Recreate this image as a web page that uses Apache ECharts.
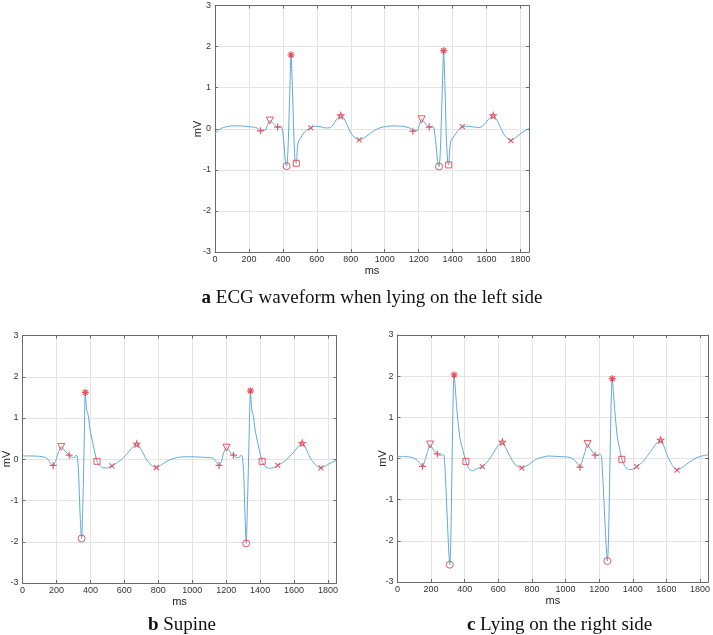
<!DOCTYPE html>
<html><head><meta charset="utf-8">
<script src="https://cdn.jsdelivr.net/npm/echarts@6/dist/echarts.min.js"></script>
<style>html,body{margin:0;padding:0;background:#fff}#c{width:713px;height:635px}</style>
</head><body><div id="c"></div>
<script>
// ---------- DATA ----------
const xTicks = [0,200,400,600,800,1000,1200,1400,1600,1800];
const yTicks = [-3,-2,-1,0,1,2,3];
const captions = ['ECG waveform when lying on the left side','Supine','Lying on the right side'];
const letters = ['a','b','c'];
const xName = 'ms';
const yName = 'mV';

// Panel a: lying on the left side  [ms, mV]
const waveA = [[0,-0.12],[20,-0.03],[50,0.03],[100,0.07],[150,0.07],[200,0.05],[240,0.03],[255,0.0],[268,-0.05],[285,-0.02],[296,-0.04],[310,0.1],[323,0.2],[345,0.12],[369,0.04],[385,0.06],[395,0.02],[405,-0.3],[415,-0.8],[422,-0.91],[430,-0.5],[440,0.8],[448,1.8],[456,1.0],[465,-0.2],[472,-0.8],[479,-0.84],[485,-0.5],[492,-0.3],[505,-0.22],[520,-0.12],[540,-0.03],[564,0.02],[590,0.06],[620,0.05],[650,0.02],[680,0.03],[700,0.12],[720,0.25],[741,0.32],[760,0.25],[780,0.08],[800,-0.1],[825,-0.22],[850,-0.27],[880,-0.22],[910,-0.13],[940,-0.04],[970,0.02],[1000,0.05],[1050,0.07],[1100,0.06],[1140,0.03],[1155,0.0],[1166,-0.06],[1180,-0.03],[1192,-0.05],[1205,0.1],[1217,0.23],[1240,0.12],[1262,0.04],[1280,0.06],[1290,0.02],[1300,-0.3],[1312,-0.8],[1320,-0.92],[1328,-0.5],[1338,0.8],[1347,1.9],[1355,1.0],[1363,-0.2],[1371,-0.8],[1377,-0.88],[1383,-0.5],[1390,-0.3],[1405,-0.2],[1425,-0.08],[1457,0.05],[1490,0.06],[1530,0.04],[1560,0.03],[1590,0.12],[1615,0.25],[1639,0.32],[1660,0.22],[1680,0.05],[1700,-0.12],[1720,-0.22],[1743,-0.29],[1770,-0.22],[1800,-0.12],[1830,-0.04],[1850,0.0]];
const pOnA  = [[268,-0.05],[1166,-0.06]];
const pPkA  = [[323,0.2],[1217,0.23]];
const pOffA = [[369,0.04],[1262,0.04]];
const qA    = [[422,-0.91],[1320,-0.92]];
const rA    = [[448,1.8],[1347,1.9]];
const sA    = [[479,-0.84],[1377,-0.88]];
const tOnA  = [[564,0.02],[1457,0.05]];
const tPkA  = [[741,0.32],[1639,0.32]];
const tOffA = [[850,-0.27],[1743,-0.29]];

// Panel b: supine
const waveB = [[0,0.08],[50,0.08],[100,0.07],[130,0.05],[150,0.0],[165,-0.1],[181,-0.15],[195,-0.05],[210,0.15],[228,0.30],[250,0.2],[275,0.10],[295,0.04],[305,0.04],[315,0.1],[322,0.08],[330,-0.3],[340,-1.4],[348,-1.92],[356,-1.0],[364,0.5],[370,1.62],[378,1.2],[387,1.07],[397,0.74],[417,0.34],[439,-0.05],[455,-0.15],[475,-0.21],[500,-0.21],[527,-0.16],[560,-0.08],[590,0.02],[620,0.15],[650,0.3],[673,0.37],[690,0.3],[710,0.15],[730,0.0],[760,-0.15],[789,-0.2],[820,-0.13],[860,-0.03],[900,0.03],[950,0.06],[1000,0.06],[1050,0.05],[1100,0.04],[1125,0.02],[1140,-0.05],[1158,-0.15],[1172,-0.05],[1185,0.15],[1202,0.28],[1222,0.18],[1243,0.10],[1262,0.04],[1275,0.04],[1288,0.1],[1295,0.06],[1303,-0.3],[1312,-1.5],[1318,-2.04],[1326,-1.0],[1335,0.5],[1343,1.66],[1351,1.2],[1360,1.05],[1370,0.72],[1390,0.32],[1412,-0.05],[1430,-0.18],[1455,-0.22],[1480,-0.2],[1504,-0.15],[1540,-0.06],[1570,0.05],[1600,0.18],[1625,0.32],[1648,0.39],[1665,0.3],[1685,0.12],[1705,-0.03],[1730,-0.15],[1758,-0.21],[1790,-0.15],[1820,-0.08],[1850,-0.03]];
const pOnB  = [[181,-0.15],[1158,-0.15]];
const pPkB  = [[228,0.30],[1202,0.28]];
const pOffB = [[275,0.10],[1243,0.10]];
const qB    = [[348,-1.92],[1318,-2.04]];
const rB    = [[370,1.62],[1343,1.66]];
const sB    = [[439,-0.05],[1412,-0.05]];
const tOnB  = [[527,-0.16],[1504,-0.15]];
const tPkB  = [[673,0.37],[1648,0.39]];
const tOffB = [[789,-0.2],[1758,-0.21]];

// Panel c: lying on the right side
const waveC = [[0,0.05],[40,0.05],[80,0.03],[110,-0.02],[130,-0.1],[149,-0.19],[163,-0.05],[178,0.15],[194,0.34],[215,0.2],[237,0.11],[255,0.07],[265,0.09],[278,0.07],[311,-2.58],[337,2.03],[356,1.06],[372,0.49],[386,0.25],[407,-0.07],[425,-0.25],[445,-0.3],[470,-0.25],[505,-0.2],[535,-0.08],[565,0.1],[600,0.32],[624,0.40],[645,0.25],[670,0.05],[700,-0.15],[740,-0.23],[780,-0.15],[820,-0.03],[860,0.03],[900,0.06],[950,0.05],[1000,0.04],[1030,0.02],[1055,-0.05],[1070,-0.12],[1086,-0.21],[1100,-0.05],[1115,0.15],[1131,0.35],[1150,0.22],[1176,0.08],[1190,0.07],[1203,0.1],[1214,0.06],[1249,-2.49],[1278,1.94],[1295,1.06],[1309,0.49],[1321,0.25],[1335,-0.02],[1355,-0.2],[1380,-0.27],[1400,-0.26],[1423,-0.2],[1460,-0.08],[1490,0.08],[1520,0.25],[1545,0.38],[1566,0.45],[1585,0.3],[1605,0.08],[1630,-0.13],[1663,-0.28],[1700,-0.2],[1740,-0.08],[1780,0.02],[1820,0.07],[1850,0.09]];
const pOnC  = [[149,-0.19],[1086,-0.21]];
const pPkC  = [[194,0.34],[1131,0.35]];
const pOffC = [[237,0.11],[1176,0.08]];
const qC    = [[311,-2.58],[1249,-2.49]];
const rC    = [[337,2.03],[1278,1.94]];
const sC    = [[407,-0.07],[1335,-0.02]];
const tOnC  = [[505,-0.2],[1423,-0.2]];
const tPkC  = [[624,0.40],[1566,0.45]];
const tOffC = [[740,-0.23],[1663,-0.28]];

// ---------- STYLE / LAYOUT ----------
const RED = '#e8303a';
const LINE = '#5fa9d8';
const AX = '#6b6b6b';
const grids = [
  {left:215, top:5.5, width:314, height:246.5},
  {left:22.5, top:335.5, width:314, height:247.5},
  {left:397.5, top:335, width:314.5, height:247}
];
const captionPos = [[367,284],[177,611],[554.5,611]];
const yNamePos = [[198,129],[7,459],[383,458.5]];

const SYM = {
  plus: 'path://M5,0L5,10M0,5L10,5',
  cross: 'path://M0,0L10,10M10,0L0,10',
  star: 'path://M5,0L5,10M0,5L10,5M1.5,1.5L8.5,8.5M8.5,1.5L1.5,8.5',
  penta: 'path://M5,0L6.2,3.6L10,3.6L7,5.9L8.1,9.5L5,7.3L1.9,9.5L3,5.9L0,3.6L3.8,3.6Z'
};
function mk(name, data, gi, symbol, size, opts) {
  opts = opts || {};
  return {
    type:'scatter', name, data, xAxisIndex:gi, yAxisIndex:gi,
    symbol, symbolSize:size, symbolRotate: opts.rot || 0, z:5,
    itemStyle:{color: opts.fill ? RED : 'rgba(0,0,0,0)', borderColor:RED, borderWidth: opts.bw || 1},
    silent:true
  };
}

const xAxes = [], yAxes = [], series = [], titles = [], graphics = [];
const waves = [waveA, waveB, waveC];
const marks = [
  [pOnA,pPkA,pOffA,qA,rA,sA,tOnA,tPkA,tOffA],
  [pOnB,pPkB,pOffB,qB,rB,sB,tOnB,tPkB,tOffB],
  [pOnC,pPkC,pOffC,qC,rC,sC,tOnC,tPkC,tOffC]
];
const SANS = 'Liberation Sans, Arial, sans-serif';
const SERIF = 'Liberation Serif, Times New Roman, serif';
const labelFont = {fontFamily:SANS, fontSize:9, color:'#333'};
const nameFont = {fontFamily:SANS, fontSize:11, color:'#222'};
const plain = v => String(v);

for (let g = 0; g < 3; g++) {
  xAxes.push({
    gridIndex:g, type:'value', min:0, max:1850, interval:200, position:'bottom',
    name:xName, nameLocation:'middle', nameGap:13, nameTextStyle:nameFont,
    axisLine:{show:true, onZero:false, lineStyle:{color:AX, width:1}},
    axisTick:{show:true, inside:true, length:3, lineStyle:{color:AX}},
    axisLabel:Object.assign({margin:3, showMaxLabel:false, formatter:plain}, labelFont),
    splitLine:{show:true, lineStyle:{color:'#e4e4e4', width:1}}
  });
  yAxes.push({
    gridIndex:g, type:'value', min:-3, max:3, interval:1, position:'left',
    axisLine:{show:true, onZero:false, lineStyle:{color:AX, width:1}},
    axisTick:{show:true, inside:true, length:3, lineStyle:{color:AX}},
    axisLabel:Object.assign({margin:4, formatter:plain}, labelFont),
    splitLine:{show:true, lineStyle:{color:'#e4e4e4', width:1}}
  });
}
// box axes (top / right)
for (let g = 0; g < 3; g++) {
  xAxes.push({
    gridIndex:g, type:'value', min:0, max:1850, interval:200, position:'top',
    axisLine:{show:true, onZero:false, lineStyle:{color:AX, width:1}},
    axisTick:{show:true, inside:true, length:3, lineStyle:{color:AX}},
    axisLabel:{show:false}, splitLine:{show:false}
  });
  yAxes.push({
    gridIndex:g, type:'value', min:-3, max:3, interval:1, position:'right',
    axisLine:{show:true, onZero:false, lineStyle:{color:AX, width:1}},
    axisTick:{show:true, inside:true, length:3, lineStyle:{color:AX}},
    axisLabel:{show:false}, splitLine:{show:false}
  });
}

for (let g = 0; g < 3; g++) {
  series.push({
    type:'line', data:waves[g], xAxisIndex:g, yAxisIndex:g, showSymbol:false,
    smooth:0.25, lineStyle:{color:LINE, width:1}, z:3, silent:true
  });
  const m = marks[g];
  series.push(mk('Pon', m[0], g, SYM.plus, 7, {bw:1.2}));
  series.push(mk('Ppk', m[1], g, 'triangle', 7, {rot:180}));
  series.push(mk('Poff', m[2], g, SYM.plus, 7, {bw:1.2}));
  series.push(mk('Q', m[3], g, 'circle', 7));
  series.push(mk('R', m[4], g, SYM.star, 7, {bw:1.3}));
  series.push(mk('S', m[5], g, 'rect', 6));
  series.push(mk('Ton', m[6], g, SYM.cross, 5, {bw:1.1}));
  series.push(mk('Tpk', m[7], g, SYM.penta, 6, {bw:1.1}));
  series.push(mk('Toff', m[8], g, SYM.cross, 5, {bw:1.1}));

  titles.push({
    text: '{b|' + letters[g] + '} ' + captions[g],
    left: captionPos[g][0], top: captionPos[g][1], textAlign:'center',
    textStyle:{
      fontFamily:SERIF, fontSize:19, fontWeight:'normal', color:'#111',
      rich:{ b:{fontFamily:SERIF, fontSize:19, fontWeight:'bold', color:'#111'} }
    }
  });
  graphics.push({
    type:'text', x:yNamePos[g][0], y:yNamePos[g][1], rotation:Math.PI/2, silent:true,
    style:{text:yName, font:'11px ' + SANS, fill:'#222', align:'center', verticalAlign:'middle'}
  });
}

const chart = echarts.init(document.getElementById('c'), null, {renderer:'canvas'});
chart.setOption({
  animation:false,
  backgroundColor:'#fff',
  title: titles,
  grid: grids,
  xAxis: xAxes,
  yAxis: yAxes,
  series: series,
  graphic: graphics
});
</script>
</body></html>
